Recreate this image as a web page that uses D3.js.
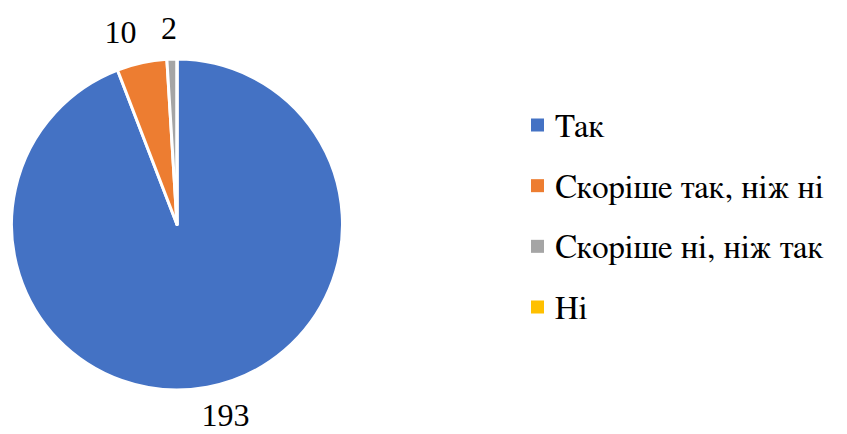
<!DOCTYPE html>
<html><head><meta charset="utf-8">
<script src="https://cdn.jsdelivr.net/npm/d3@7"></script>
<style>body{margin:0;background:#fff}svg{display:block}</style>
</head><body>
<svg id="c" width="847" height="434"></svg>
<script>
const categories = ["Так", "Скоріше так, ніж ні", "Скоріше ні, ніж так", "Ні"];
const values = [193, 10, 2, 0];
const colors = ["#4472C4", "#ED7D31", "#A5A5A5", "#FFC000"];

const LABEL_FONT = '"Liberation Serif", "FreeSerif", serif';
const LEGEND_FONT = '"FreeSerif", "Liberation Serif", serif';
const BASE = 26;
const svg = d3.select("#c");
const cx = 177, cy = 224.5, r = 165.5;

// draw text at base size, scaled up to the wanted size
function sText(parent, x, y, size, str, anchor, fam) {
  const k = size / BASE;
  return parent.append("g").attr("transform", `translate(${x},${y}) scale(${k})`)
    .append("text").attr("x", 0).attr("y", 0)
    .attr("text-anchor", anchor || "start")
    .style("font-family", fam).attr("font-size", BASE).attr("fill", "#000")
    .text(str);
}

const pie = d3.pie().sort(null).value(d => d)(values);
const arc = d3.arc().innerRadius(0).outerRadius(r);
const g = svg.append("g").attr("transform", `translate(${cx},${cy})`);
g.selectAll("path").data(pie).join("path")
  .attr("d", arc)
  .attr("fill", (d, i) => colors[i])
  .attr("stroke", "#fff").attr("stroke-width", 3).attr("stroke-linejoin", "round");

// data labels, outside end
const fs = 32, Rx = r * 1.6, Ry = r * 1.18;
pie.forEach((d) => {
  if (d.data === 0) return;
  const a = (d.startAngle + d.endAngle) / 2;
  const x = Math.sin(a) * Rx;
  const yc = -Math.cos(a) * Ry;
  sText(g, x, yc + 0.3 * fs, fs, String(d.data), "middle", LABEL_FONT);
});

// legend
const lfs = 33;
const ly = d3.scalePoint().domain(categories).range([125, 307]);
const lg = svg.append("g");
categories.forEach((cat, i) => {
  lg.append("rect").attr("x", 531).attr("y", ly(cat) - 6.5).attr("width", 13).attr("height", 13).attr("fill", colors[i]);
  sText(lg, 555, ly(cat) + 0.36 * lfs, lfs, cat, "start", LEGEND_FONT);
});
</script>
</body></html>
